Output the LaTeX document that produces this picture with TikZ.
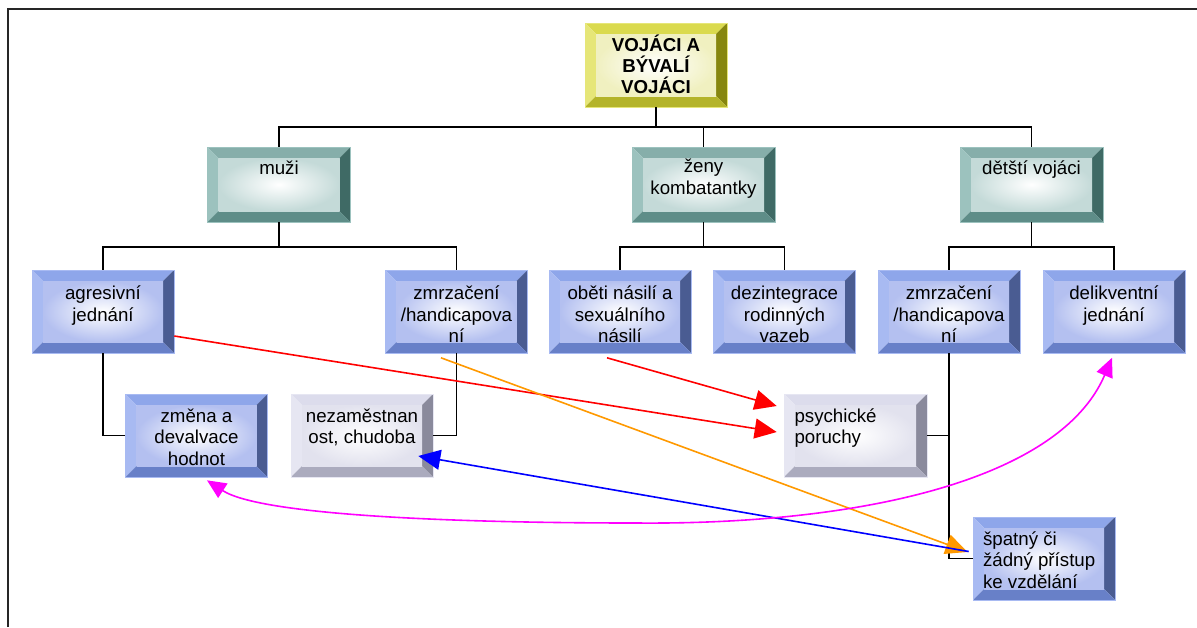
\documentclass[tikz,border=0pt]{standalone}
\usepackage{fontspec}
\setmainfont{Liberation Sans}
\usetikzlibrary{arrows.meta,calc}
\definecolor{yT}{HTML}{DADA4E}
\definecolor{yL}{HTML}{E6E678}
\definecolor{yR}{HTML}{86860E}
\definecolor{yB}{HTML}{B4B42A}
\definecolor{yI}{HTML}{F0F0C0}
\definecolor{tT}{HTML}{86AEAA}
\definecolor{tL}{HTML}{9CC2BE}
\definecolor{tR}{HTML}{3F6A65}
\definecolor{tB}{HTML}{5E8D88}
\definecolor{tI}{HTML}{C4DAD8}
\definecolor{bT}{HTML}{8EA6EA}
\definecolor{bL}{HTML}{A8BAF2}
\definecolor{bR}{HTML}{4A5C92}
\definecolor{bB}{HTML}{6880C8}
\definecolor{bI}{HTML}{B4C0F0}
\definecolor{gT}{HTML}{DCDCEC}
\definecolor{gL}{HTML}{E6E6F2}
\definecolor{gR}{HTML}{8A8A9C}
\definecolor{gB}{HTML}{ABABBE}
\definecolor{gI}{HTML}{E2E2EE}
\definecolor{arOr}{HTML}{FF9900}
\definecolor{arRd}{HTML}{FF0000}
\definecolor{arBl}{HTML}{0000FF}
\definecolor{arMg}{HTML}{FF00FF}
\newcommand\bxt[3]{\parbox[c][#1][t]{122pt}{\centering\rule{0pt}{#2}#3}}
\newcommand\bxl[3]{\parbox[c][#1][t]{122pt}{\raggedright\rule{0pt}{#2}#3}}
\tikzset{
  bevelbox/.style n args={5}{inner sep=0pt, minimum width=142pt, minimum height=83pt,
    draw=#2, line width=0.6pt,
    font=\fontsize{18.7}{21.5}\selectfont,
    path picture={
      \coordinate (q1) at (path picture bounding box.north west);
      \coordinate (q2) at (path picture bounding box.north east);
      \coordinate (q3) at (path picture bounding box.south east);
      \coordinate (q4) at (path picture bounding box.south west);
      \coordinate (i1) at ([shift={(11,11)}]q1);
      \coordinate (i2) at ([shift={(-11,11)}]q2);
      \coordinate (i3) at ([shift={(-11,-11)}]q3);
      \coordinate (i4) at ([shift={(11,-11)}]q4);
      \fill[#1] (q1) -- (q2) -- (i2) -- (i1) -- cycle;
      \fill[#2] (q1) -- (i1) -- (i4) -- (q4) -- cycle;
      \fill[#3] (q2) -- (q3) -- (i3) -- (i2) -- cycle;
      \fill[#4] (q4) -- (q3) -- (i3) -- (i4) -- cycle;
      \shade[inner color=white, outer color=#5] (i1) rectangle (i3);
    }},
  yelbox/.style={bevelbox={yT}{yL}{yR}{yB}{yI}, minimum height=84pt, font=\fontsize{18.7}{21}\selectfont\bfseries},
  tealbox/.style={bevelbox={tT}{tL}{tR}{tB}{tI}, minimum width=143pt, minimum height=75pt},
  bluebox/.style={bevelbox={bT}{bL}{bR}{bB}{bI}},
  greybox/.style={bevelbox={gT}{gL}{gR}{gB}{gI}},
  conn/.style={line width=1.7pt, black},
  arr/.style={line width=1.6pt, -{Triangle[length=22pt,width=20pt]}},
  frameline/.style={line width=2.2pt, black!85}
}
\begin{document}
\begin{tikzpicture}[x=1pt,y=-1pt]
\useasboundingbox (0,0) rectangle (1197,627);
\fill[white] (0,0) rectangle (1197,627);
\draw[frameline] (8,627) -- (8,9) -- (1197,9);

% level 1
\node[yelbox] (root) at (656,65) {\bxt{60pt}{15pt}{VOJÁCI A\\BÝVALÍ\\VOJÁCI}};
% level 2
\node[tealbox] (muzi) at (279,184.5) {\bxt{52pt}{15.5pt}{muži}};
\node[tealbox] (zeny) at (703.5,184.5) {\bxt{52pt}{14pt}{ženy\\kombatantky}};
\node[tealbox] (deti) at (1031.5,184.5) {\bxt{52pt}{15.5pt}{dětští vojáci}};
% level 3
\node[bluebox] (agr) at (103,311.5) {\bxt{60pt}{18pt}{agresivní\\jednání}};
\node[bluebox] (zmr1) at (456.5,311.5) {\bxt{60pt}{18pt}{zmrzačení\\/handicapova\\ní}};
\node[bluebox] (obeti) at (620,311.5) {\bxt{60pt}{18pt}{oběti násilí a\\sexuálního\\násilí}};
\node[bluebox] (dez) at (784.5,311.5) {\bxt{60pt}{18pt}{dezintegrace\\rodinných\\vazeb}};
\node[bluebox] (zmr2) at (949,311.5) {\bxt{60pt}{18pt}{zmrzačení\\/handicapova\\ní}};
\node[bluebox] (delik) at (1114,311.5) {\bxt{60pt}{18pt}{delikventní\\jednání}};
% level 4
\node[bluebox] (zmena) at (196.5,435.5) {\bxt{60pt}{16.5pt}{změna a\\devalvace\\hodnot}};
\node[greybox] (nezam) at (362,435.5) {\bxt{60pt}{16.5pt}{nezaměstnan\\ost, chudoba}};
\node[greybox, minimum width=143pt] (psych) at (855.5,435.5) {\bxl{60pt}{16.5pt}{psychické\\poruchy}};
\node[bluebox] (spatny) at (1044,558.5) {\bxl{60pt}{16.5pt}{špatný či\\žádný přístup\\ke vzdělání}};

% tree connectors
\draw[conn] (root.south) -- ++(0,20) coordinate (j1);
\draw[conn] (muzi.north) |- (j1) -| (deti.north);
\draw[conn] (zeny.north) -- (zeny.north |- j1);
\draw[conn] (muzi.south) -- ++(0,25) coordinate (j2);
\draw[conn] (agr.north) |- (j2) -| (zmr1.north);
\draw[conn] (zeny.south) -- ++(0,25) coordinate (j3);
\draw[conn] (obeti.north) |- (j3) -| (dez.north);
\draw[conn] (deti.south) -- ++(0,25) coordinate (j4);
\draw[conn] (zmr2.north) |- (j4) -| (delik.north);
\draw[conn] (agr.south) |- (zmena.west);
\draw[conn] (zmr1.south) |- (nezam.east);
\draw[conn] (zmr2.south) |- (spatny.west);
\draw[conn] (psych.east) -- (psych.east -| zmr2.south);

% coloured arrows
\draw[arr, arRd] ([shift={(0,24.5)}]agr.east) -- ([shift={(-7,-3.5)}]psych.west);
\draw[arr, arRd] ([shift={(-13,4.5)}]obeti.south) -- ([shift={(-7,-29.5)}]psych.west);
\draw[arr, arOr] ([shift={(-15.5,4.5)}]zmr1.south) -- ([shift={(-5,-6.5)}]spatny.west);
\draw[arr, arBl] ([shift={(-4,-7)}]spatny.west) -- ([shift={(-15,20.5)}]nezam.east);
\coordinate (mlow) at (636,523);
\draw[line width=1.6pt, arMg, {Triangle[length=19pt,width=17pt]}-{Triangle[length=19pt,width=17pt]}]
  ([shift={(10.5,3)}]zmena.south) .. controls (260,515) and (450,523) .. (mlow)
  .. controls (860,525) and (1060,480) .. ([shift={(-2,4.5)}]delik.south);
\end{tikzpicture}
\end{document}
